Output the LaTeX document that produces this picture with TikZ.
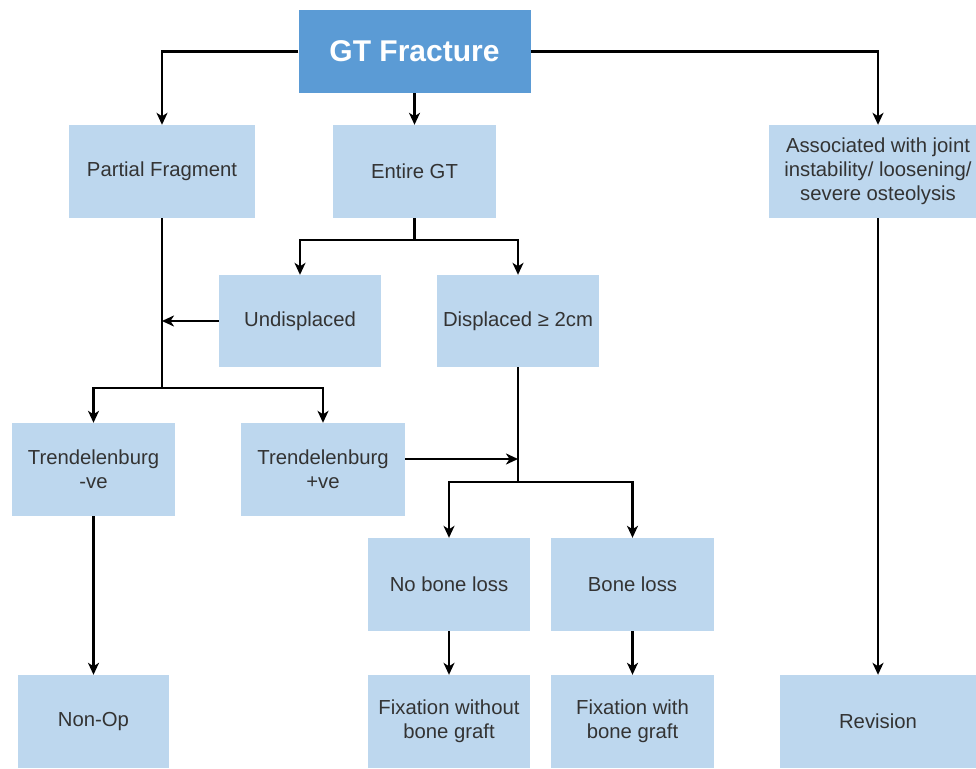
\documentclass[tikz,border=0pt]{standalone}
\usepackage{fontspec}
\setmainfont{Liberation Sans}
\usetikzlibrary{arrows.meta}
\definecolor{boxfill}{HTML}{BDD7EE}
\definecolor{topfill}{HTML}{5B9BD5}
\definecolor{txt}{HTML}{333333}
\tikzset{
  box/.style={rectangle, fill=boxfill, draw=none, text=txt, align=center,
    inner sep=0pt, font=\fontsize{20.3}{24}\selectfont},
  topbox/.style={rectangle, fill=topfill, draw=none, text=white, align=center,
    inner sep=0pt, font=\fontsize{30}{34}\selectfont\bfseries},
  conn/.style={line width=2.6pt, draw=black},
  arr/.style={conn, -{Stealth[length=12pt,width=11pt,inset=3.5pt]}}
}
\begin{document}
\begin{tikzpicture}[x=1pt,y=-1pt]
\useasboundingbox (0,0) rectangle (976,768);
\node[topbox, minimum width=232pt, minimum height=83pt] (gt) at (414.5,51.5) {GT Fracture};
\node[box, minimum width=186pt, minimum height=93pt] (pf) at (162,171.5) {Partial Fragment};
\node[box, minimum width=163pt, minimum height=93pt] (egt) at (414.5,171.5) {Entire GT};
\node[box, minimum width=218pt, minimum height=93pt] (as) at (878,171.5) {Associated with joint\\instability/ loosening/\\severe osteolysis};
\node[box, minimum width=162pt, minimum height=92pt] (und) at (300,321) {Undisplaced};
\node[box, minimum width=162pt, minimum height=92pt] (dis) at (518,321) {Displaced ≥ 2cm};
\node[box, minimum width=163pt, minimum height=93pt] (tn) at (93.5,469.5) {Trendelenburg\\-ve};
\node[box, minimum width=164pt, minimum height=93pt] (tp) at (323,469.5) {Trendelenburg\\+ve};
\node[box, minimum width=162pt, minimum height=93pt] (nb) at (449,584.5) {No bone loss};
\node[box, minimum width=163pt, minimum height=93pt] (bl) at (632.5,584.5) {Bone loss};
\node[box, minimum width=151pt, minimum height=93pt] (no) at (93.5,721.5) {Non-Op};
\node[box, minimum width=162pt, minimum height=93pt] (fwo) at (449,721.5) {Fixation without\\bone graft};
\node[box, minimum width=163pt, minimum height=93pt] (fw) at (632.5,721.5) {Fixation with\\bone graft};
\node[box, minimum width=196pt, minimum height=93pt] (rev) at (878,721.5) {Revision};
% connectors
\draw[arr] (gt.west) -| (pf.north);
\draw[arr] (gt.south) -- (egt.north);
\draw[arr] (gt.east) -| (as.north);
\coordinate (j1) at (162,388);
\draw[conn] (pf.south) -- (j1);
\draw[arr] (und.west) -- (und.west -| pf.south);
\draw[arr] (j1) -| (tn.north);
\draw[arr] (j1) -| (tp.north);
\coordinate (j2) at (414.5,240);
\draw[conn] (egt.south) -- (j2);
\draw[arr] (j2) -| (und.north);
\draw[arr] (j2) -| (dis.north);
\coordinate (j3) at (518,482);
\draw[conn] (dis.south) -- (j3);
\draw[arr] (j3) -| (nb.north);
\draw[arr] (j3) -| (bl.north);
\coordinate (tpo) at (405,459);
\draw[arr] (tpo) -- (tpo -| dis.south);
\draw[arr] (tn.south) -- (no.north);
\draw[arr] (nb.south) -- (fwo.north);
\draw[arr] (bl.south) -- (fw.north);
\draw[arr] (as.south) -- (rev.north);
\end{tikzpicture}
\end{document}
